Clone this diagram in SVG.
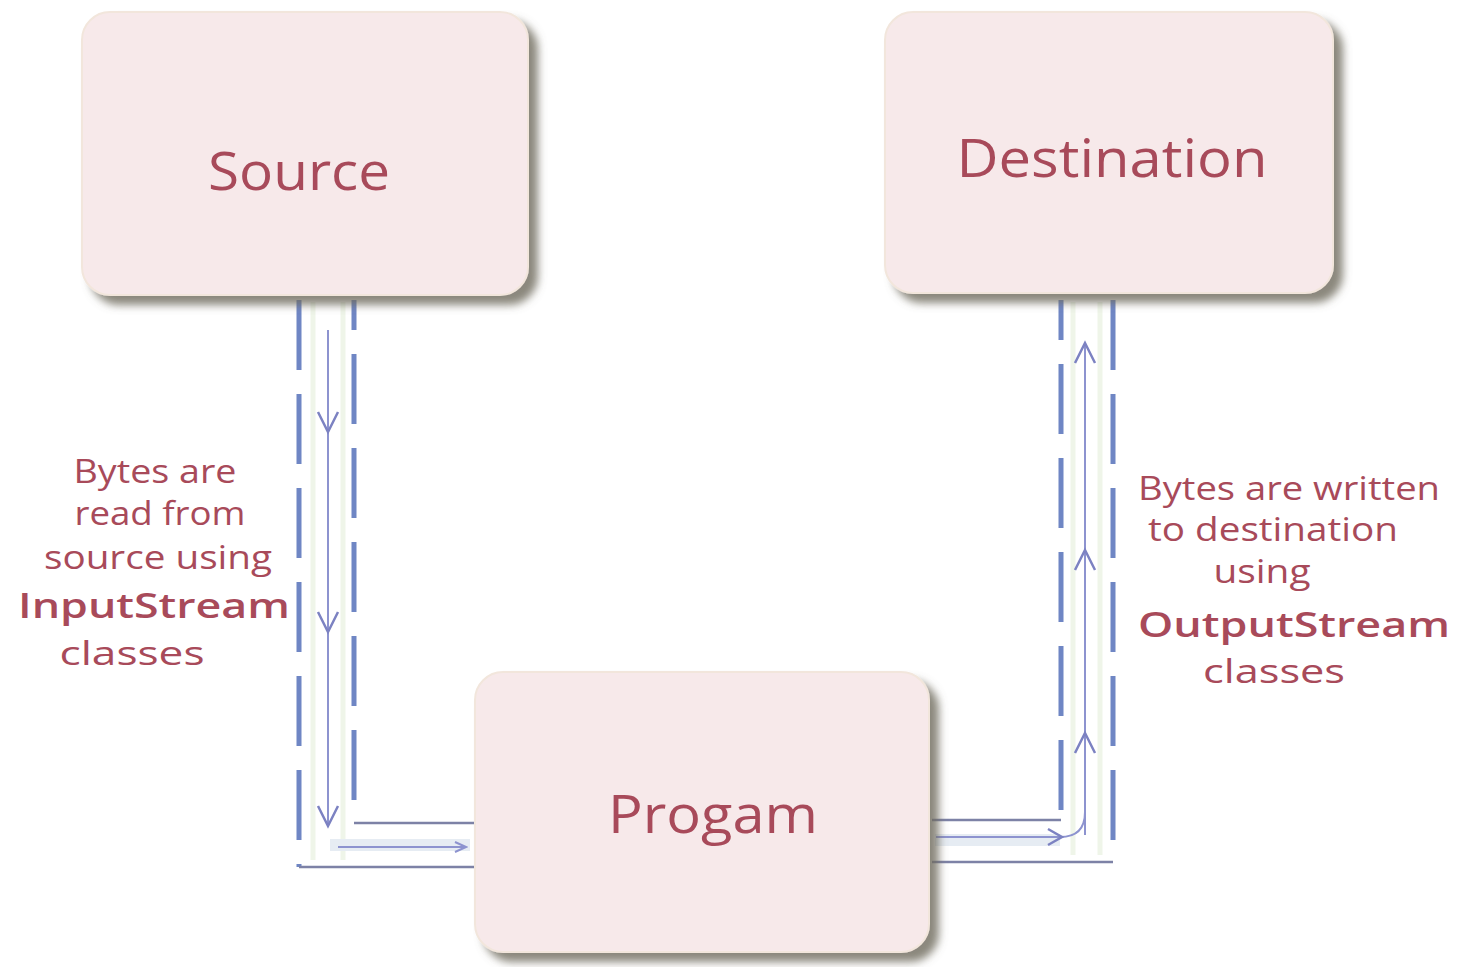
<svg xmlns="http://www.w3.org/2000/svg" width="1459" height="967" viewBox="0 0 1459 967">
  <defs>
    <filter id="shadow" x="-10%" y="-10%" width="125%" height="130%">
      <feGaussianBlur in="SourceAlpha" stdDeviation="4"/>
      <feOffset dx="9" dy="9" result="b"/>
      <feFlood flood-color="#6e6a5c" flood-opacity="0.8"/>
      <feComposite in2="b" operator="in" result="s"/>
      <feMerge><feMergeNode in="s"/><feMergeNode in="SourceGraphic"/></feMerge>
    </filter>
    <filter id="blur" x="-50%" y="-10%" width="200%" height="120%">
      <feGaussianBlur stdDeviation="3"/>
    </filter>
    <marker id="arrR" markerWidth="14" markerHeight="12" refX="12" refY="6" orient="auto" markerUnits="userSpaceOnUse">
      <path d="M1,1 L12,6 L1,11" fill="none" stroke="#8d93cf" stroke-width="2"/>
    </marker>
  </defs>
  <style>
    .box { fill: #f7e9ea; stroke: #f2e6dc; stroke-width: 2; }
    .lbl { font-family: "Open Sans", "Liberation Sans", sans-serif; fill: #a84a5a; text-anchor: middle; }
    .big { font-size: 53px; }
    .note { font-size: 32px; }
    .bold { font-weight: 600; font-size: 35px; }
    .dash { stroke: #6f86c4; stroke-width: 5; stroke-dasharray: 70 24; fill: none; }
    .dashsh { stroke: #b8b8b8; stroke-width: 7; stroke-dasharray: 70 24; fill: none; }
    .inner { stroke: #8d93cf; stroke-width: 2; fill: none; }
    .glow { stroke: #e4eedb; stroke-width: 5; fill: none; opacity: 0.6; }
    .chev { stroke: #7c82c2; stroke-width: 2.5; fill: none; }
    .hline { stroke: #7d82a6; stroke-width: 2.5; fill: none; }
  </style>

  <rect width="1459" height="967" fill="#ffffff"/>

  <g id="connectors">
    <!-- left pipe: Source to Progam -->
    <line class="dashsh" x1="366" y1="310" x2="366" y2="870" filter="url(#blur)" stroke-dashoffset="40"/>
    <line class="glow" x1="313" y1="302" x2="313" y2="860"/>
    <line class="glow" x1="343" y1="302" x2="343" y2="860"/>
    <line class="dash" x1="299" y1="300" x2="299" y2="867"/>
    <line class="dash" x1="354" y1="300" x2="354" y2="823" stroke-dashoffset="40"/>
    <line class="inner" x1="328" y1="330" x2="328" y2="826"/>
    <path class="chev" d="M318,412 L328,432 L338,412"/>
    <path class="chev" d="M318,612 L328,632 L338,612"/>
    <path class="chev" d="M318,806 L328,826 L338,806"/>
    <line class="hline" x1="354" y1="823" x2="476" y2="823"/>
    <line class="hline" x1="299" y1="867" x2="476" y2="867"/>
    <line stroke="#e6ecf3" stroke-width="12" x1="330" y1="845" x2="470" y2="845"/>
    <line class="inner" x1="338" y1="847" x2="466" y2="847" marker-end="url(#arrR)"/>
    <line stroke="#cfcfcf" stroke-width="6" x1="300" y1="880" x2="470" y2="880" filter="url(#blur)"/>

    <!-- right pipe: Progam to Destination -->
    <line class="dashsh" x1="1125" y1="310" x2="1125" y2="870" filter="url(#blur)"/>
    <line class="glow" x1="1073" y1="302" x2="1073" y2="855"/>
    <line class="glow" x1="1100" y1="302" x2="1100" y2="855"/>
    <line class="dash" x1="1061" y1="300" x2="1061" y2="820" stroke-dashoffset="30"/>
    <line class="dash" x1="1113" y1="300" x2="1113" y2="862"/>
    <line class="inner" x1="1085" y1="343" x2="1085" y2="835"/>
    <path class="chev" d="M1075,363 L1085,343 L1095,363"/>
    <path class="chev" d="M1075,570 L1085,550 L1095,570"/>
    <path class="chev" d="M1075,753 L1085,733 L1095,753"/>
    <line class="hline" x1="932" y1="820" x2="1061" y2="820"/>
    <line class="hline" x1="932" y1="862" x2="1113" y2="862"/>
    <line stroke="#e6ecf3" stroke-width="12" x1="935" y1="840" x2="1060" y2="840"/>
    <path class="inner" d="M936,837 L1060,837 Q1085,837 1085,812"/>
    <path class="chev" d="M1048,829 L1062,837 L1048,845"/>
    <line stroke="#cfcfcf" stroke-width="6" x1="935" y1="876" x2="1115" y2="876" filter="url(#blur)"/>
  </g>

  <g id="source">
    <rect class="box" x="82" y="12" width="446" height="283" rx="28" filter="url(#shadow)"/>
    <text class="lbl big" x="299" y="190" textLength="182" lengthAdjust="spacingAndGlyphs">Source</text>
  </g>

  <g id="destination">
    <rect class="box" x="885" y="12" width="448" height="281" rx="28" filter="url(#shadow)"/>
    <text class="lbl big" x="1112" y="177" textLength="311" lengthAdjust="spacingAndGlyphs">Destination</text>
  </g>

  <g id="program">
    <rect class="box" x="475" y="672" width="454" height="280" rx="28" filter="url(#shadow)"/>
    <text class="lbl big" x="713" y="833" textLength="210" lengthAdjust="spacingAndGlyphs">Progam</text>
  </g>

  <g id="label-input">
    <text class="lbl note" x="155" y="483" textLength="163" lengthAdjust="spacingAndGlyphs">Bytes are</text>
    <text class="lbl note" x="160" y="525" textLength="171" lengthAdjust="spacingAndGlyphs">read from</text>
    <text class="lbl note" x="158" y="569" textLength="228" lengthAdjust="spacingAndGlyphs">source using</text>
    <text class="lbl note bold" x="154" y="618" textLength="272" lengthAdjust="spacingAndGlyphs">InputStream</text>
    <text class="lbl note" x="132" y="665" textLength="145" lengthAdjust="spacingAndGlyphs">classes</text>
  </g>

  <g id="label-output">
    <text class="lbl note" x="1289" y="500" textLength="302" lengthAdjust="spacingAndGlyphs">Bytes are written</text>
    <text class="lbl note" x="1273" y="541" textLength="250" lengthAdjust="spacingAndGlyphs">to destination</text>
    <text class="lbl note" x="1262" y="583" textLength="97" lengthAdjust="spacingAndGlyphs">using</text>
    <text class="lbl note bold" x="1294" y="637" textLength="312" lengthAdjust="spacingAndGlyphs">OutputStream</text>
    <text class="lbl note" x="1274" y="683" textLength="142" lengthAdjust="spacingAndGlyphs">classes</text>
  </g>
</svg>
